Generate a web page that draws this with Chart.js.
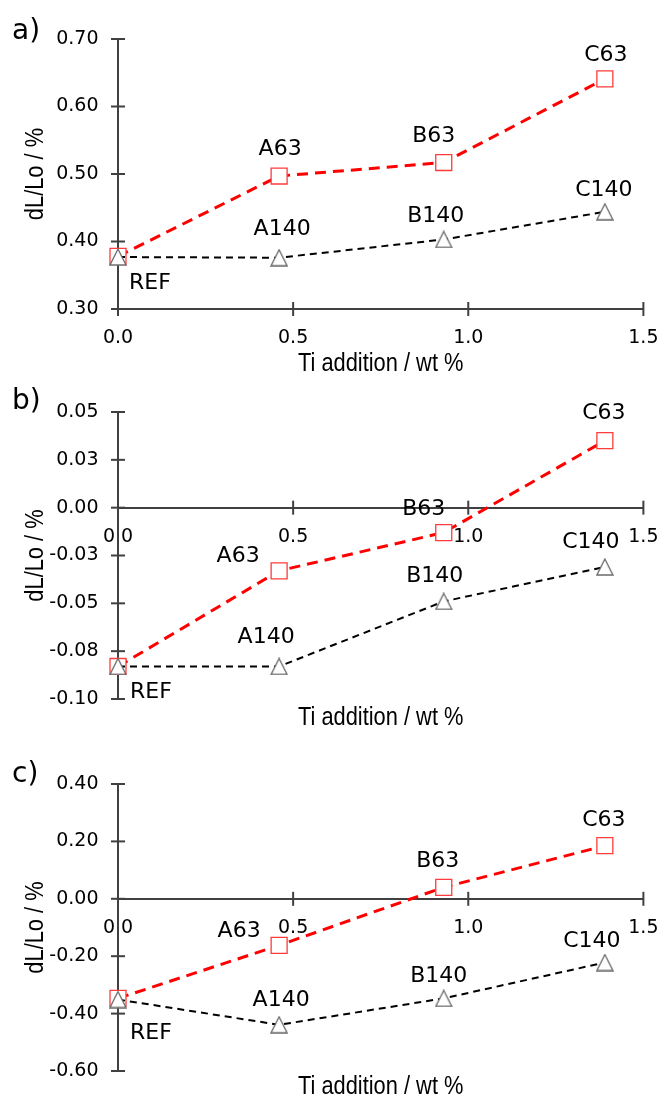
<!DOCTYPE html>
<html>
<head>
<meta charset="utf-8">
<script src="https://cdn.jsdelivr.net/npm/chart.js@4.4.1/dist/chart.umd.min.js"></script>
<style>
  body { margin: 0; background: #fff; overflow: hidden; width: 669px; height: 1095px; position: relative; }
  canvas { position: absolute; left: 0; }
  .tag { position: absolute; left: 12px; font-family: "DejaVu Sans"; font-size: 28px; line-height: 1; color: #000; }
</style>
</head>
<body>
<canvas id="chartA" width="669" height="380" style="top:0px"></canvas>
<canvas id="chartB" width="669" height="359" style="top:375px"></canvas>
<canvas id="chartC" width="669" height="373" style="top:730px"></canvas>
<div class="tag" style="top:16px">a)</div>
<div class="tag" style="top:386px">b)</div>
<div class="tag" style="top:759px">c)</div>
<script>
// Ti addition (wt %) for REF, A, B, C
var tiAddition = [0, 0.46, 0.93, 1.39];
var names63 = ['', 'A63', 'B63', 'C63'];
var names140 = ['REF', 'A140', 'B140', 'C140'];

// a)
var a63 = [0.378, 0.497, 0.517, 0.641];
var a140 = [0.377, 0.376, 0.403, 0.444];
// b)
var b63 = [-0.083, -0.033, -0.013, 0.035];
var b140 = [-0.083, -0.083, -0.049, -0.031];
// c)
var c63 = [-0.347, -0.162, 0.040, 0.185];
var c140 = [-0.351, -0.439, -0.347, -0.222];

var xTickValues = [0, 0.5, 1.0, 1.5];
var xTickLabels = ['0.0', '0.5', '1.0', '1.5'];
var aTickValues = [0.3, 0.4, 0.5, 0.6, 0.7];
var aTickLabels = ['0.30', '0.40', '0.50', '0.60', '0.70'];
var bTickValues = [-0.1, -0.075, -0.05, -0.025, 0, 0.025, 0.05];
var bTickLabels = ['-0.10', '-0.08', '-0.05', '-0.03', '0.00', '0.03', '0.05'];
var cTickValues = [-0.6, -0.4, -0.2, 0, 0.2, 0.4];
var cTickLabels = ['-0.60', '-0.40', '-0.20', '0.00', '0.20', '0.40'];

var xTitle = 'Ti addition / wt %';
var yTitle = 'dL/Lo / %';

var axisColor = '#404040';
var tickFont = { family: 'DejaVu Sans', size: 19 };

function makeTriangle() {
  var c = document.createElement('canvas');
  c.width = 18; c.height = 18;
  var g = c.getContext('2d');
  g.beginPath();
  g.moveTo(9, 1); g.lineTo(17, 17); g.lineTo(1, 17); g.closePath();
  g.fillStyle = '#fff'; g.fill();
  g.strokeStyle = '#6a6a6a'; g.lineWidth = 1.3; g.stroke();
  return c;
}
var triangle = makeTriangle();

function toPoints(ys) {
  return ys.map(function (y, i) { return { x: tiAddition[i], y: y }; });
}

// narrow text, the titles in the figure are condensed
function narrowText(ctx, text, x, y, rot) {
  ctx.save();
  ctx.translate(x, y);
  ctx.rotate(rot);
  ctx.scale(0.84, 1);
  ctx.fillText(text, 0, 0);
  ctx.restore();
}

function makeChart(id, s63, s140, yVals, yLabels, xAtZero, lay, off63, off140) {
  var labelPlugin = {
    id: 'pointLabels',
    afterDatasetsDraw: function (chart) {
      var ctx = chart.ctx;
      var texts = [names140, names63];
      var offs = [off140, off63];
      ctx.save();
      ctx.font = '22px "DejaVu Sans"';
      ctx.fillStyle = '#000';
      ctx.textAlign = 'center';
      ctx.textBaseline = 'middle';
      for (var d = 0; d < 2; d++) {
        chart.getDatasetMeta(d).data.forEach(function (pt, j) {
          if (!texts[d][j]) return;
          ctx.fillText(texts[d][j], pt.x + offs[d][j][0], pt.y + offs[d][j][1]);
        });
      }
      ctx.restore();
    }
  };

  var axisTitles = {
    id: 'axisTitles',
    afterDraw: function (chart) {
      var ctx = chart.ctx, area = chart.chartArea;
      ctx.save();
      ctx.font = '26px "Liberation Sans"';
      ctx.fillStyle = '#000';
      ctx.textAlign = 'center';
      ctx.textBaseline = 'middle';
      narrowText(ctx, xTitle, (area.left + area.right) / 2, lay.xTitleY, 0);
      narrowText(ctx, yTitle, 36, (area.top + area.bottom) / 2, -Math.PI / 2);
      ctx.restore();
    }
  };

  var crossTicks = {
    id: 'crossTicks',
    beforeDatasetsDraw: function (chart) {
      var ctx = chart.ctx, xs = chart.scales.x, ys = chart.scales.y;
      var ax = xs.getPixelForValue(0);
      var ay = xAtZero ? ys.getPixelForValue(0) : chart.chartArea.bottom;
      ctx.save();
      ctx.strokeStyle = axisColor;
      ctx.lineWidth = 2;
      ys.ticks.forEach(function (t) {
        var p = ys.getPixelForValue(t.value);
        ctx.beginPath(); ctx.moveTo(ax - 7, p); ctx.lineTo(ax + 7, p); ctx.stroke();
      });
      xs.ticks.forEach(function (t) {
        var p = xs.getPixelForValue(t.value);
        ctx.beginPath(); ctx.moveTo(p, ay - 7); ctx.lineTo(p, ay + 7); ctx.stroke();
      });
      ctx.restore();
    }
  };

  return new Chart(document.getElementById(id), {
    type: 'scatter',
    data: {
      datasets: [
        {
          label: '140',
          data: toPoints(s140),
          showLine: true,
          borderColor: '#000',
          borderWidth: 2,
          borderDash: [7, 5],
          pointStyle: triangle,
          pointRadius: 9,
          clip: false
        },
        {
          label: '63',
          data: toPoints(s63),
          showLine: true,
          borderColor: '#ff0000',
          borderWidth: 3,
          borderDash: [11, 7],
          pointStyle: 'rect',
          pointRadius: 11.3,
          pointBackgroundColor: '#fff',
          pointBorderColor: '#ff3b3b',
          pointBorderWidth: 1.3,
          clip: false
        }
      ]
    },
    options: {
      responsive: false,
      animation: false,
      events: [],
      layout: { padding: lay.padding },
      plugins: {
        legend: { display: false },
        tooltip: { enabled: false }
      },
      scales: {
        x: {
          type: 'linear',
          position: xAtZero ? { y: 0 } : 'bottom',
          min: 0,
          max: 1.5,
          afterFit: function (scale) { if (!xAtZero) scale.height = 40.8; },
          afterBuildTicks: function (scale) {
            scale.ticks = xTickValues.map(function (v) { return { value: v }; });
          },
          grid: { display: false, drawTicks: true, tickLength: 7 },
          border: { display: true, color: axisColor, width: 2 },
          ticks: {
            color: '#000',
            font: tickFont,
            padding: 10.5,
            maxRotation: 0,
            callback: function (v, i) { return xTickLabels[i]; }
          }
        },
        y: {
          type: 'linear',
          min: yVals[0],
          max: yVals[yVals.length - 1],
          afterFit: function (scale) { scale.width = 118; },
          afterBuildTicks: function (scale) {
            scale.ticks = yVals.map(function (v) { return { value: v }; });
          },
          grid: { display: false, drawTicks: true, tickLength: 7 },
          border: { display: true, color: axisColor, width: 2 },
          ticks: {
            color: '#000',
            font: tickFont,
            padding: 12.5,
            callback: function (v, i) { return yLabels[i]; }
          }
        }
      }
    },
    plugins: [crossTicks, labelPlugin, axisTitles]
  });
}

makeChart('chartA', a63, a140, aTickValues, aTickLabels, false,
  { padding: { top: 39, right: 16, bottom: 30.2, left: 0 }, xTitleY: 364 },
  [[0, 0], [1, -27], [-10, -26], [1, -24]],
  [[32, 26], [3, -28], [-8, -23], [-1, -22]]);

makeChart('chartB', b63, b140, bTickValues, bTickLabels, true,
  { padding: { top: 37, right: 16, bottom: 35, left: 0 }, xTitleY: 343 },
  [[0, 0], [-41, -15], [-20, -23], [-1, -27]],
  [[33, 26], [-13, -29], [-9, -25], [-14, -25]]);

makeChart('chartC', c63, c140, cTickValues, cTickLabels, true,
  { padding: { top: 54, right: 16, bottom: 32, left: 0 }, xTitleY: 357 },
  [[0, 0], [-40, -14], [-6, -26], [-1, -25]],
  [[33, 34], [2, -25], [-5, -22], [-13, -21]]);
</script>
</body>
</html>
